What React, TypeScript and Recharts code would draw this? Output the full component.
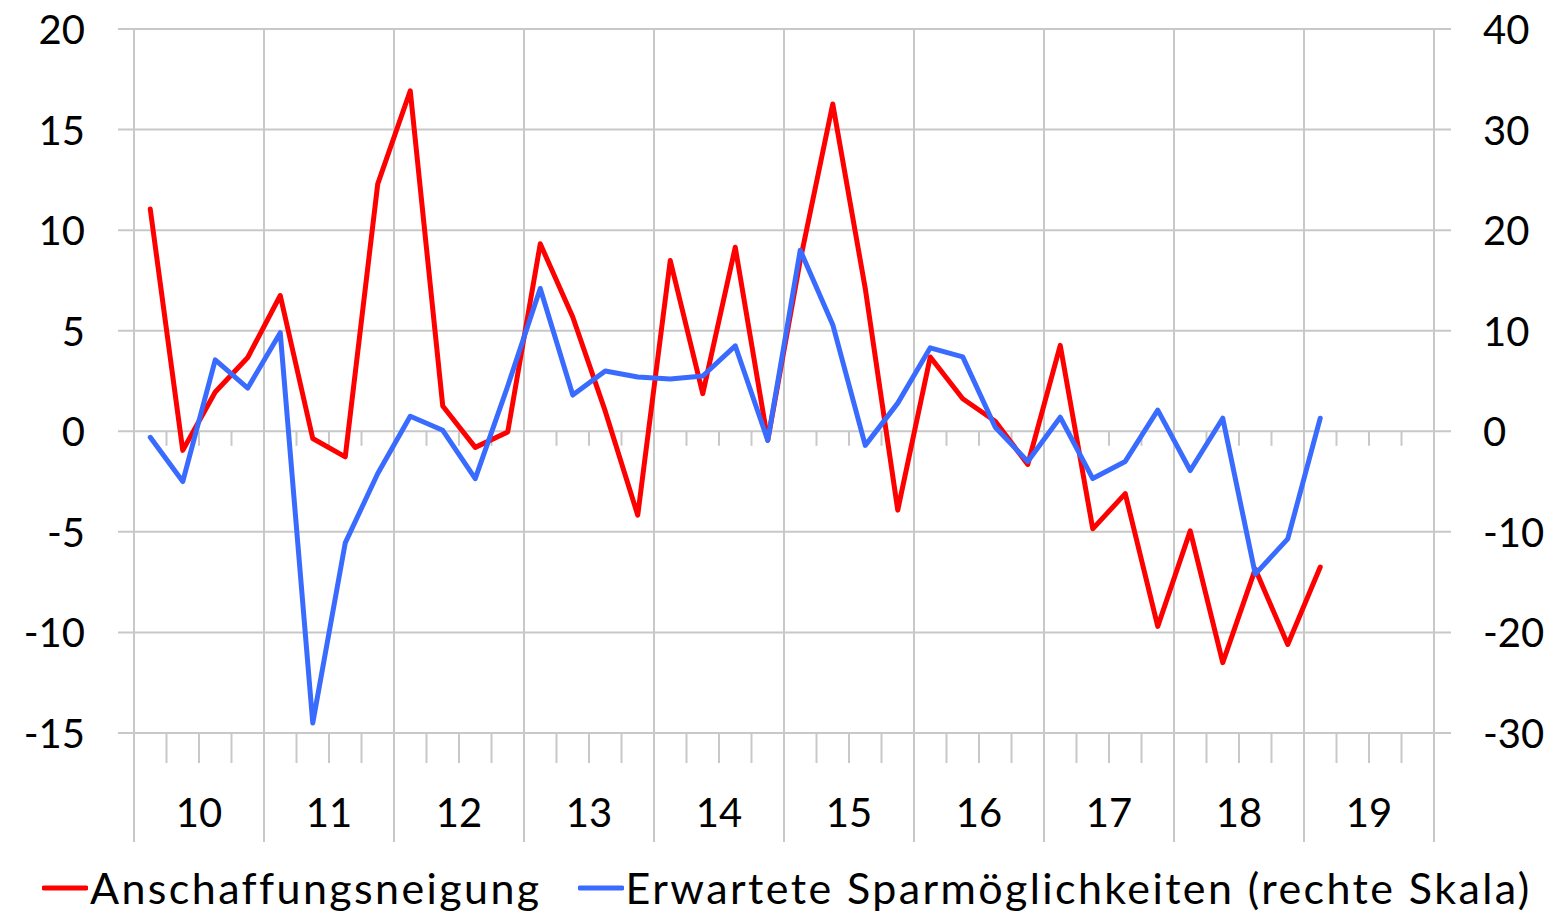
import { LineChart, Line, XAxis, YAxis, CartesianGrid, ReferenceLine, Legend } from 'recharts';

const years = ['10', '11', '12', '13', '14', '15', '16', '17', '18', '19'];

// Anschaffungsneigung, quarterly from Q1 2010 (left scale)
const anschaffung = [
    11.05, -0.95, 1.95, 3.67, 6.75, -0.36, -1.27, 12.3, 16.93, 1.26,
    -0.8, -0.03, 9.32, 5.68, 1.0, -4.17, 8.49, 1.87, 9.15, -0.45,
    8.5, 16.27, 7.1, -3.92, 3.69, 1.62, 0.5, -1.65, 4.27, -4.85,
    -3.1, -9.7, -4.95, -11.5, -6.85, -10.6, -6.75,
];

// Erwartete Sparmöglichkeiten (right scale)
const sparen = [
    -0.6, -5.0, 7.1, 4.3, 9.8, -29.0, -11.1, -4.2, 1.5, 0.1,
    -4.7, 4.5, 14.2, 3.6, 6.0, 5.4, 5.2, 5.5, 8.5, -0.9,
    18.0, 10.6, -1.4, 2.8, 8.3, 7.4, 0.4, -3.0, 1.4, -4.7,
    -3.0, 2.1, -3.9, 1.3, -14.2, -10.7, 1.3,
];

const leftTicks = [-15, -10, -5, 0, 5, 10, 15, 20];
const rightTicks = [-30, -20, -10, 0, 10, 20, 30, 40];

const seriesNames = ['Anschaffungsneigung', 'Erwartete Sparmöglichkeiten (rechte Skala)'];

const data = anschaffung.map((v, i) => ({ q: i + 0.5, a: v, s: sparen[i] }));
const quarterTicks = Array.from({ length: years.length * 4 + 1 }, (_, i) => i);

const FONT = 'Lato, "Open Sans", sans-serif';
const GRID = '#c8c8c8';
const RED = '#ff0000';
const BLUE = '#3a6bff';
const PLOT_BOTTOM = 733;

function LeftTick(props: any) {
    return (
        <text x={85} y={props.y} textAnchor="end" dominantBaseline="central"
            fontFamily={FONT} fontWeight={400} fontSize={40} fill="#000">
            {props.payload.value}
        </text>
    );
}

function RightTick(props: any) {
    return (
        <text x={1483} y={props.y} textAnchor="start" dominantBaseline="central"
            fontFamily={FONT} fontWeight={400} fontSize={40} fill="#000">
            {props.payload.value}
        </text>
    );
}

function QuarterTick(props: any) {
    const v = props.payload.value;
    if (v % 4 === 0) return <g />;
    return (
        <g>
            <line x1={props.x} x2={props.x} y1={PLOT_BOTTOM} y2={PLOT_BOTTOM + 30} stroke={GRID} strokeWidth={2} />
            {v % 4 === 2 && (
                <text x={props.x} y={PLOT_BOTTOM + 79} textAnchor="middle" dominantBaseline="central"
                    fontFamily={FONT} fontWeight={400} fontSize={40} fill="#000">
                    {years[(v - 2) / 4]}
                </text>
            )}
        </g>
    );
}

function LegendContent(props: any) {
    const items = props.payload || [];
    return (
        <div style={{ display: 'flex', alignItems: 'center', paddingLeft: 42, fontFamily: FONT, fontWeight: 400, fontSize: 43, letterSpacing: 2.4, color: '#000', whiteSpace: 'nowrap' }}>
            {items.map((it: any, i: number) => (
                <div key={i} style={{ display: 'flex', alignItems: 'center', marginRight: 36 }}>
                    <svg width={46} height={8}>
                        <line x1={2} x2={44} y1={4} y2={4} stroke={it.color} strokeWidth={5} strokeLinecap="round" />
                    </svg>
                    <span style={{ marginLeft: 2 }}>{it.value}</span>
                </div>
            ))}
        </div>
    );
}

export default function App() {
    return (
        <div style={{ position: 'absolute', left: 0, top: 0, background: '#fff' }}>
            <LineChart width={1558} height={916} data={data} margin={{ top: 29, right: 0, bottom: 0, left: 0 }}>
                <CartesianGrid
                    yAxisId="left"
                    stroke={GRID}
                    strokeWidth={2}
                    horizontal={(p: any) => (
                        <line key={p.key} x1={p.x1 - 16} x2={p.x2 + 17} y1={p.y1} y2={p.y2} stroke={GRID} strokeWidth={2} />
                    )}
                    vertical={(p: any) =>
                        p.index % 4 === 0 ? (
                            <line key={p.key} x1={p.x1} x2={p.x2} y1={p.y1} y2={p.y2 + 109} stroke={GRID} strokeWidth={2} />
                        ) : (
                            <g key={p.key} />
                        )
                    }
                />
                <XAxis
                    dataKey="q"
                    type="number"
                    domain={[0, years.length * 4]}
                    ticks={quarterTicks}
                    interval={0}
                    height={183}
                    axisLine={false}
                    tickLine={false}
                    tick={<QuarterTick />}
                />
                <YAxis yAxisId="left" domain={[-15, 20]} ticks={leftTicks} width={134} axisLine={false} tickLine={false} tick={<LeftTick />} />
                <YAxis yAxisId="right" orientation="right" domain={[-30, 40]} ticks={rightTicks} width={124} axisLine={false} tickLine={false} tick={<RightTick />} />
                {quarterTicks.filter((t) => t % 4 !== 0).map((t) => (
                    <ReferenceLine
                        key={t}
                        yAxisId="left"
                        segment={[{ x: t, y: 0 }, { x: t, y: -0.72 }]}
                        stroke={GRID}
                        strokeWidth={2}
                    />
                ))}
                <Legend
                    layout="horizontal"
                    verticalAlign="middle"
                    align="center"
                    wrapperStyle={{ top: 862, left: 0, width: 1558, height: 54 }}
                    content={<LegendContent />}
                />
                <Line yAxisId="left" dataKey="a" name={seriesNames[0]} stroke={RED} strokeWidth={5} dot={false}
                    strokeLinejoin="round" strokeLinecap="round" isAnimationActive={false} />
                <Line yAxisId="right" dataKey="s" name={seriesNames[1]} stroke={BLUE} strokeWidth={5} dot={false}
                    strokeLinejoin="round" strokeLinecap="round" isAnimationActive={false} />
            </LineChart>
        </div>
    );
}
